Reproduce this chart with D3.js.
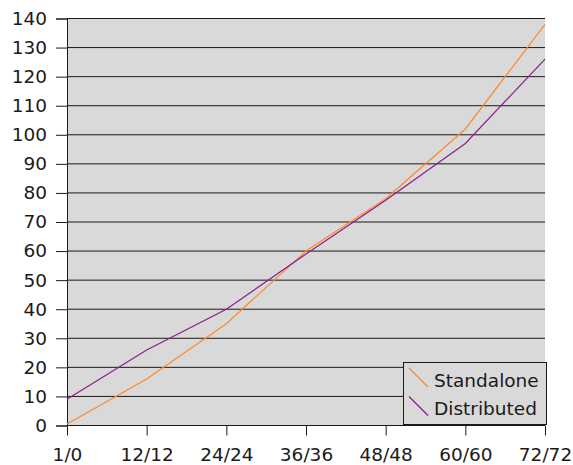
<!DOCTYPE html>
<html>
<head>
<meta charset="utf-8">
<script src="https://cdn.jsdelivr.net/npm/d3@7/dist/d3.min.js"></script>
<style>
  html, body { margin: 0; padding: 0; background: #fff; }
  svg { display: block; }
  text { font-family: "DejaVu Sans", sans-serif; fill: #1a1a1a; }
</style>
</head>
<body>
<svg id="chart" width="573" height="465"></svg>
<script>
const categories = ["1/0", "12/12", "24/24", "36/36", "48/48", "60/60", "72/72"];
const standalone = [0.5, 16, 35, 60, 78, 102, 138];
const distributed = [9, 26, 40, 59, 77.5, 97, 126];
const yTicks = [0, 10, 20, 30, 40, 50, 60, 70, 80, 90, 100, 110, 120, 130, 140];
const seriesNames = ["Standalone", "Distributed"];
const seriesColors = ["#fb8a2c", "#8c1d8c"];

(function () {
const svg = d3.select("#chart");
const plotLeft = 67, plotRight = 545, plotTop = 18.5, plotBottom = 425.5;
const fs = 18.5;

const x = d3.scalePoint().domain(categories).range([plotLeft, plotRight]);
const y = d3.scaleLinear().domain([0, 140]).range([plotBottom, plotTop]);

svg.append("rect")
  .attr("x", plotLeft).attr("y", plotTop)
  .attr("width", plotRight - plotLeft).attr("height", plotBottom - plotTop)
  .attr("fill", "#d9d9d9");

svg.append("g").selectAll("line").data(yTicks).join("line")
  .attr("x1", plotLeft).attr("x2", plotRight)
  .attr("y1", d => y(d)).attr("y2", d => y(d))
  .attr("stroke", "#1a1a1a").attr("stroke-width", 1);

const yAxis = svg.append("g")
  .attr("transform", `translate(${plotLeft},0)`)
  .call(d3.axisLeft(y).tickValues(yTicks).tickSize(11).tickPadding(9).tickFormat(d3.format("d")));
yAxis.select(".domain").attr("stroke", "#1a1a1a");
yAxis.selectAll(".tick line").attr("stroke", "#1a1a1a");
yAxis.selectAll("text").attr("font-size", fs).attr("fill", "#1a1a1a")
  .attr("font-family", "DejaVu Sans, sans-serif");

const xAxis = svg.append("g")
  .attr("transform", `translate(0,${plotBottom})`)
  .call(d3.axisBottom(x).tickSize(10).tickPadding(12));
xAxis.select(".domain").attr("stroke", "#1a1a1a").attr("d", `M${plotLeft},0H${plotRight}`);
xAxis.selectAll(".tick line").attr("stroke", "#1a1a1a");
xAxis.selectAll("text").attr("font-size", fs).attr("fill", "#1a1a1a")
  .attr("font-family", "DejaVu Sans, sans-serif");

const line = d3.line().x((d, i) => x(categories[i])).y(d => y(d));
[standalone, distributed].forEach((s, k) => {
  svg.append("path").datum(s)
    .attr("d", line)
    .attr("fill", "none")
    .attr("stroke", seriesColors[k])
    .attr("stroke-width", 1.2);
});

const lg = svg.append("g");
lg.append("rect")
  .attr("x", 403.5).attr("y", 362.5)
  .attr("width", 143).attr("height", 62)
  .attr("fill", "#d9d9d9").attr("stroke", "#1a1a1a").attr("stroke-width", 1);
seriesNames.forEach((name, k) => {
  const yy = 368 + k * 28.5;
  lg.append("line")
    .attr("x1", 409).attr("y1", yy).attr("x2", 428).attr("y2", yy + 19)
    .attr("stroke", seriesColors[k]).attr("stroke-width", 1.2);
  lg.append("text")
    .attr("x", 434).attr("y", yy + 18.5)
    .attr("font-size", fs)
    .text(name);
});
})();
</script>
</body>
</html>
